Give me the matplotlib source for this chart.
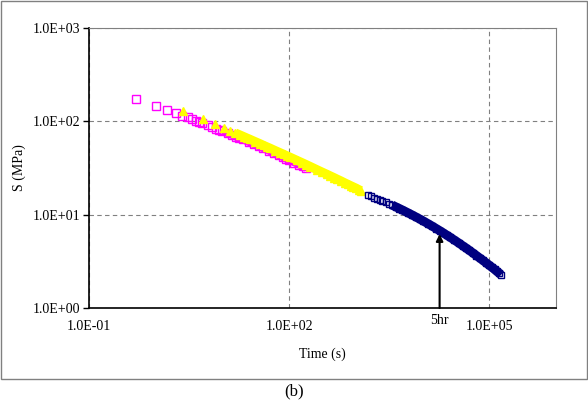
import numpy as np
import matplotlib.pyplot as plt
from matplotlib.patches import Rectangle

plt.rcParams['font.family'] = ['Liberation Serif', 'DejaVu Serif']

#%% Datos

# Serie magenta (cuadrados huecos)
t_mag = [0.5, 1, 1.5, 2, 2.5, 3, 3.5, 4, 4.5, 5, 6, 7, 8, 9, 10, 12, 14,
         16, 18, 20, 25, 30, 35, 40, 50, 60, 70, 80, 90, 100, 120, 140,
         160, 180]
s_mag = [174, 146, 132, 122, 115, 110, 105, 102, 98.5, 95.5, 90.9, 87.1,
         83.7, 80.9, 78.5, 74.4, 71.1, 68.4, 66.0, 64.0, 59.7, 56.5, 53.9,
         51.7, 48.1, 45.4, 43.2, 41.4, 39.8, 38.5, 36.2, 34.4, 32.9, 31.6]

# Serie amarilla (triangulos)
t_ama = [2.6, 5.2, 7.8, 10.4, 13, 15.6, 18.2, 20.8, 23.4, 26, 31.2, 36.4,
         41.6, 46.8, 52, 62.4, 72.8, 83.2, 93.6, 104, 130, 156, 182, 208,
         260, 312, 364, 416, 468, 520, 598, 676, 754, 832, 910, 1014,
         1118, 1196]
s_ama = [128.8, 104.9, 92.9, 85.1, 79.4, 75.1, 71.6, 68.7, 66.2, 64.1,
         60.5, 57.7, 55.2, 53.2, 51.5, 48.5, 46.2, 44.3, 42.6, 41.2, 38.3,
         36.1, 34.3, 32.8, 30.4, 28.6, 27.2, 26.0, 25.0, 24.1, 23.0, 22.0,
         21.2, 20.5, 19.9, 19.2, 18.5, 18.1]

# Serie azul (cuadrados huecos)
t_azu = [1500, 1700, 1900, 2100, 2300, 2500, 2800, 3100, 3500, 4000, 4500,
         5000, 6000, 7000, 8000, 9000, 10000, 12000, 14000, 16000, 18000,
         20000, 23000, 26000, 30000, 35000, 40000, 45000, 50000, 57000,
         64000, 72000, 80000, 90000, 100000, 110000, 120000, 130000,
         140000, 150000]
s_azu = [16.29, 15.74, 15.25, 14.82, 14.42, 14.07, 13.58, 13.15, 12.64,
         12.09, 11.62, 11.20, 10.49, 9.91, 9.42, 9.00, 8.63, 8.02, 7.52,
         7.10, 6.75, 6.44, 6.04, 5.71, 5.34, 4.96, 4.64, 4.38, 4.15, 3.88,
         3.65, 3.43, 3.24, 3.04, 2.87, 2.72, 2.59, 2.47, 2.37, 2.27]

# Flecha de 5 hr
t_5hr = 18000
s_5hr = 6.2

# Ejes
x_ticks = [1e-1, 1e2, 1e5]
x_labels = ['1.0E-01', '1.0E+02', '1.0E+05']
y_ticks = [1, 10, 100, 1000]
y_labels = ['1.0E+00', '1.0E+01', '1.0E+02', '1.0E+03']

#%% Grafico

t_mag, s_mag = np.array(t_mag), np.array(s_mag)
t_ama, s_ama = np.array(t_ama), np.array(s_ama)
t_azu, s_azu = np.array(t_azu), np.array(s_azu)

fig = plt.figure(figsize=(5.88, 4.01), dpi=100)
ax = fig.add_axes([89 / 588, 93 / 401, 467 / 588, 280 / 401])
ax.set_xscale('log')
ax.set_yscale('log')
ax.set_xlim(1e-1, 1e6)
ax.set_ylim(1, 1000)

gris = '#808080'
ax.grid(True, color=gris, linestyle=(0, (4, 3)), linewidth=0.8)
ax.set_axisbelow(True)

# parte densa de cada serie como banda
m = t_mag >= 10
ax.plot(t_mag[m], s_mag[m], '-', color='#FF00FF', lw=5.5,
        solid_capstyle='butt')
ax.plot(t_mag, s_mag, 's', mfc='none', mec='#FF00FF', ms=5.5, mew=1)

m = t_ama >= 15
ax.plot(t_ama[m], s_ama[m], '-', color='#FFFF00', lw=6.5,
        solid_capstyle='butt')
ax.plot(t_ama, s_ama, '^', color='#FFFF00', ms=6)

m = t_azu >= 3500
ax.plot(t_azu[m], s_azu[m], '-', color='#000080', lw=6.5,
        solid_capstyle='butt')
ax.plot(t_azu, s_azu, 's', mfc='none', mec='#000080', ms=5, mew=1)

ax.annotate('', xy=(t_5hr, s_5hr), xytext=(t_5hr, 1),
            arrowprops=dict(arrowstyle='-|>', color='k', lw=1.5,
                            mutation_scale=10, shrinkA=0, shrinkB=0))
ax.annotate('5hr', xy=(t_5hr, 0), xycoords=('data', 'axes fraction'),
            xytext=(0, -4), textcoords='offset points',
            ha='center', va='top', fontsize=10)

ax.set_xticks(x_ticks)
ax.set_xticklabels(x_labels)
ax.set_yticks(y_ticks)
ax.set_yticklabels(y_labels)
ax.minorticks_off()
ax.tick_params(axis='x', length=0, pad=9, labelsize=10)
ax.tick_params(axis='y', length=4, width=1, pad=2, labelsize=10)

for lado in ['top', 'right']:
    ax.spines[lado].set_color(gris)
for lado in ['left', 'bottom']:
    ax.spines[lado].set_color('k')
    ax.spines[lado].set_linewidth(1.2)

ax.set_xlabel('Time (s)', fontsize=10)
ax.set_ylabel('S (MPa)', fontsize=10)
ax.xaxis.set_label_coords(0.5, -0.14)
ax.yaxis.set_label_coords(-0.135, 0.5)

# marco exterior y rotulo
fig.patches.append(Rectangle((0.5 / 588, (401 - 379) / 401), 586 / 588,
                             378 / 401, transform=fig.transFigure,
                             fill=False, edgecolor=gris, lw=1))
fig.text(294 / 588, (401 - 391) / 401, '(b)', ha='center', va='center',
         fontsize=12)

fig.savefig('out.png', dpi=100)
